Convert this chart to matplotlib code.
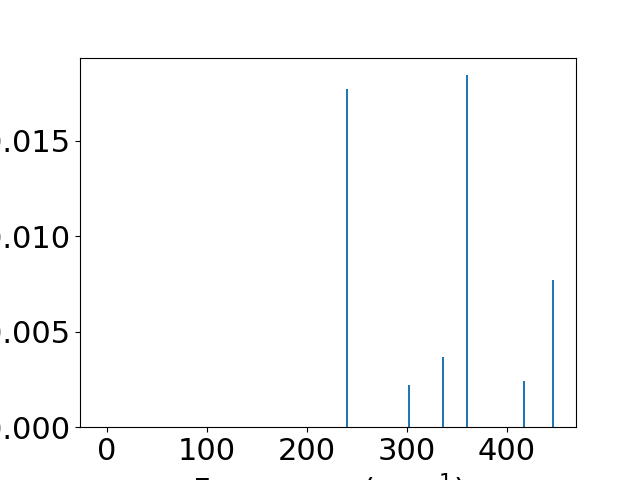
import matplotlib
matplotlib.use("Agg")
import matplotlib.pyplot as plt

frequencies = [239.6, 302.3, 335.5, 360.4, 416.8, 446.3]
intensities = [0.01768, 0.00222, 0.00367, 0.01842, 0.00243, 0.00771]

plt.rcParams['font.size'] = 22
fig, ax = plt.subplots(figsize=(6.4, 4.8), dpi=100)
ax.bar(frequencies, intensities, width=2.0, color='#1f77b4')
ax.set_xlim(-27, 469)
ax.set_xticks([0, 100, 200, 300, 400])
ax.set_yticks([0.000, 0.005, 0.010, 0.015])
ax.set_xlabel('Frequency (cm$^{-1}$)')
fig.savefig('out.png')
